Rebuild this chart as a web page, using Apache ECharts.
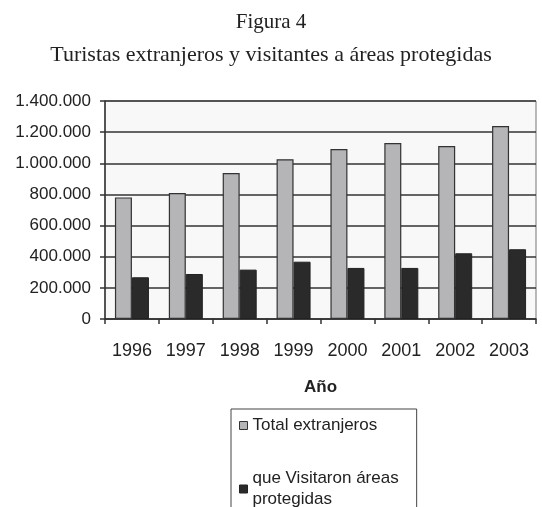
<!DOCTYPE html>
<html><head><meta charset="utf-8">
<script src="https://cdn.jsdelivr.net/npm/echarts@6/dist/echarts.min.js"></script>
<style>html,body{margin:0;padding:0;background:#fff}#c{width:542px;height:507px}</style>
</head><body><div id="c"></div>
<script>
const years = ['1996','1997','1998','1999','2000','2001','2002','2003'];
const totalExtranjeros = [781000, 809000, 938000, 1026000, 1092000, 1130000, 1111000, 1239000];
const visitaronAreas = [268000, 289000, 317000, 368000, 328000, 328000, 422000, 448000];
const yTicks = [0, 200000, 400000, 600000, 800000, 1000000, 1200000, 1400000];

function fmt(v){ return String(v).replace(/\B(?=(\d{3})+(?!\d))/g, '.'); }

const chart = echarts.init(document.getElementById('c'), null, {renderer:'canvas'});
chart.setOption({
  animation:false,
  backgroundColor:'#fff',
  title:[
    {text:'Figura 4', left:'center', top:7, textStyle:{fontFamily:'Liberation Serif', fontSize:21, fontWeight:'normal', color:'#222'}},
    {text:'Turistas extranjeros y visitantes a áreas protegidas', left:'center', top:39, textStyle:{fontFamily:'Liberation Serif', fontSize:22, fontWeight:'normal', color:'#222'}}
  ],
  grid:{left:105, top:101, width:431, height:218, show:true, backgroundColor:'#f8f8f8', borderColor:'#777', borderWidth:1},
  legend:{
    orient:'vertical', left:231, top:409, height:300,
    borderColor:'#444', borderWidth:1, padding:[6,18,30,8],
    itemWidth:8, itemHeight:8, itemGap:32,
    icon:'rect',
    textStyle:{fontFamily:'Liberation Sans', fontSize:17, color:'#222', lineHeight:21},
    data:[
      {name:'Total extranjeros', itemStyle:{color:'#b5b5b8', borderColor:'#333', borderWidth:1}},
      {name:'que Visitaron áreas\nprotegidas', itemStyle:{color:'#2a2a2a', borderColor:'#222', borderWidth:1}}
    ]
  },
  xAxis:{
    type:'category', data:years, name:'Año', nameLocation:'middle', nameGap:60,
    nameTextStyle:{fontFamily:'Liberation Sans', fontSize:17, fontWeight:'bold', color:'#222'},
    axisLine:{lineStyle:{color:'#333', width:1.5}},
    axisTick:{show:true, length:5, lineStyle:{color:'#333', width:1.5}},
    axisLabel:{fontFamily:'Liberation Sans', fontSize:18, color:'#222', margin:23}
  },
  yAxis:{
    type:'value', min:0, max:1400000, interval:200000,
    axisLine:{show:true, lineStyle:{color:'#333', width:1.5}},
    axisTick:{show:true, length:5, lineStyle:{color:'#333', width:1.5}},
    splitLine:{lineStyle:{color:'#333', width:1.5}},
    axisLabel:{fontFamily:'Liberation Sans', fontSize:17, color:'#222', margin:14,
      formatter:function(v){ return yTicks.indexOf(v) >= 0 ? fmt(v) : ''; }}
  },
  series:[
    {name:'Total extranjeros', type:'bar', data:totalExtranjeros, barWidth:17, barGap:'0%',
      itemStyle:{color:'#b5b5b8', borderColor:'#333', borderWidth:1.2}},
    {name:'que Visitaron áreas\nprotegidas', type:'bar', data:visitaronAreas, barWidth:17, barGap:'0%',
      itemStyle:{color:'#2a2a2a', borderColor:'#222', borderWidth:1}}
  ]
});
</script></body></html>
